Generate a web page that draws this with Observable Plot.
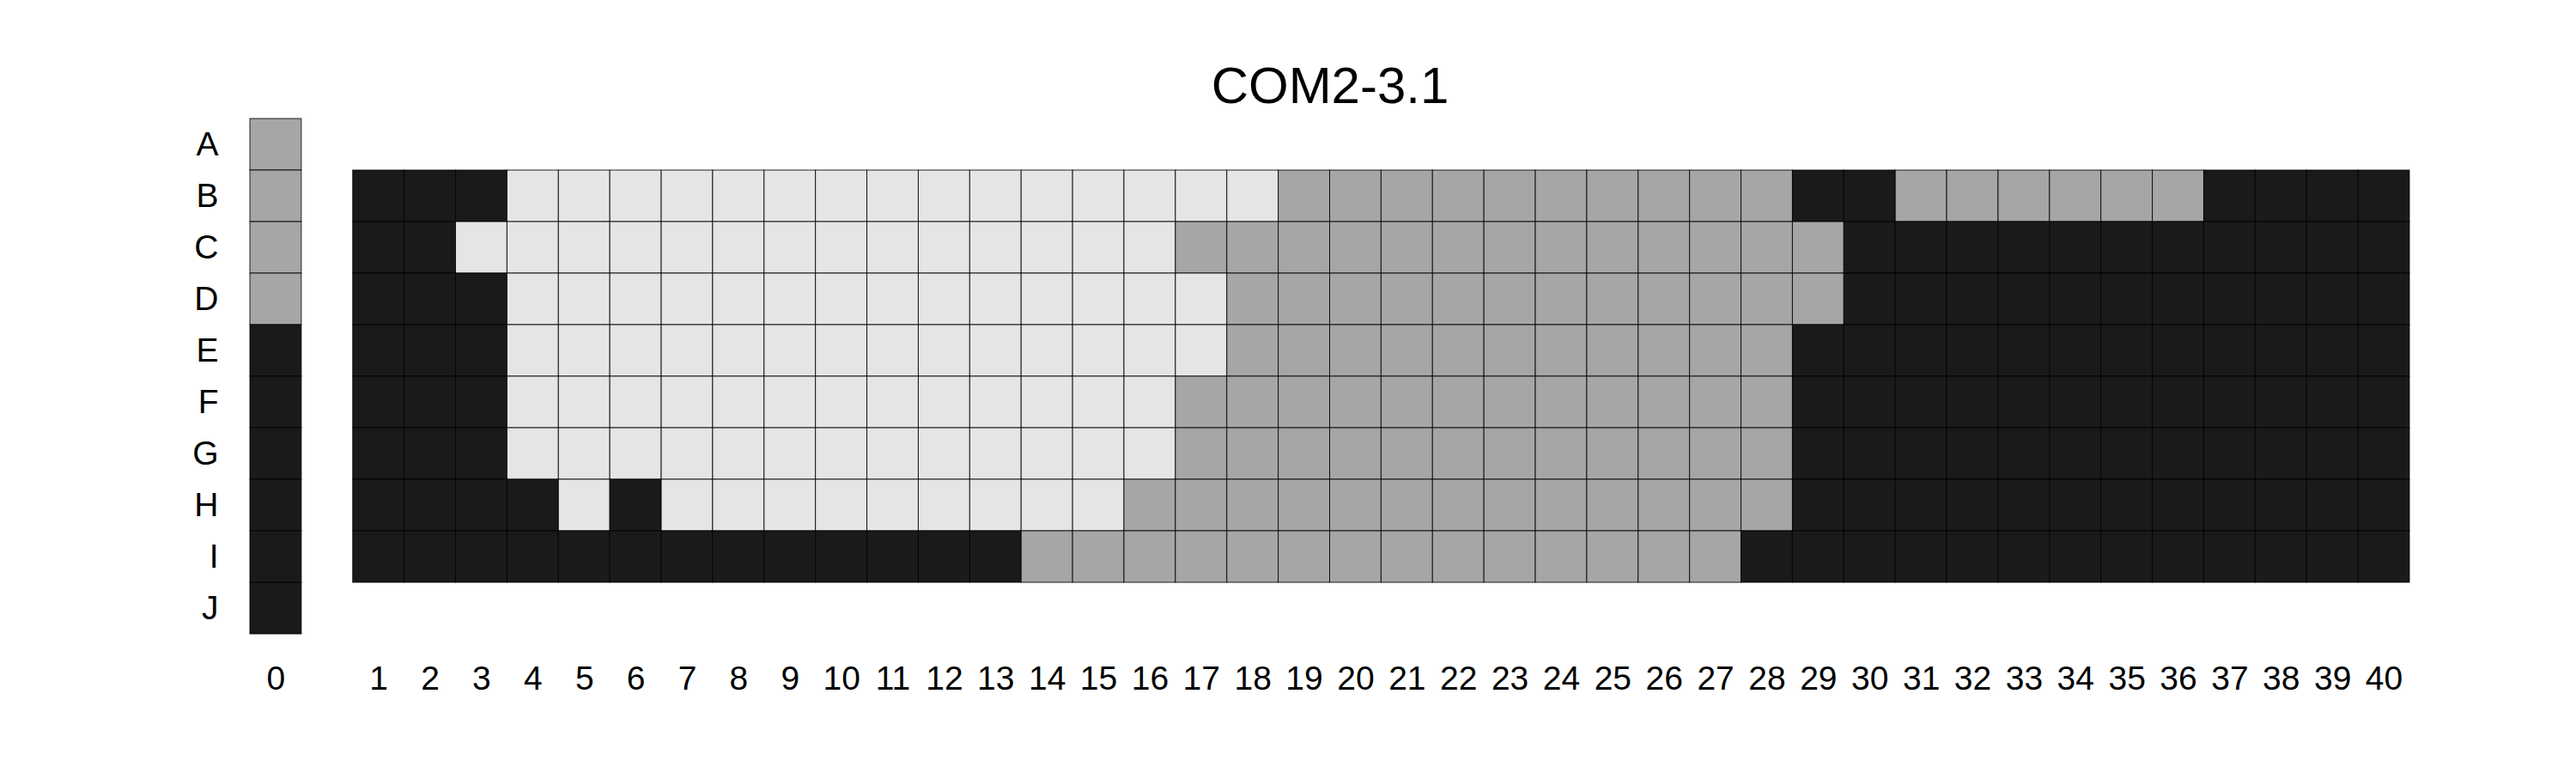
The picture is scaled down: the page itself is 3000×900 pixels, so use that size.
<!DOCTYPE html>
<html>
<head>
<meta charset="utf-8">
<script src="https://cdn.jsdelivr.net/npm/d3@7"></script>
<script src="https://cdn.jsdelivr.net/npm/@observablehq/plot@0.6"></script>
<style>
  html, body { margin: 0; padding: 0; background: #fff; }
</style>
</head>
<body>
<div id="chart"></div>
<script>
const title = "COM2-3.1";
const rowLabels = ["A","B","C","D","E","F","G","H","I","J"];
const colLabels = ["0","1","2","3","4","5","6","7","8","9","10","11","12","13","14","15","16","17","18","19","20","21","22","23","24","25","26","27","28","29","30","31","32","33","34","35","36","37","38","39","40"];
const states = ["D","G","L"];           // dark, grey, light
const stateColors = ["#1a1a1a","#a6a6a6","#e5e5e5"];

// column 0, rows A..J
const col0 = ["G","G","G","G","D","D","D","D","D","D"];

// columns 1..40 for rows B..I
const rowB = ["D","D","D","L","L","L","L","L","L","L","L","L","L","L","L","L","L","L","G","G","G","G","G","G","G","G","G","G","D","D","G","G","G","G","G","G","D","D","D","D"];
const rowC = ["D","D","L","L","L","L","L","L","L","L","L","L","L","L","L","L","G","G","G","G","G","G","G","G","G","G","G","G","G","D","D","D","D","D","D","D","D","D","D","D"];
const rowD = ["D","D","D","L","L","L","L","L","L","L","L","L","L","L","L","L","L","G","G","G","G","G","G","G","G","G","G","G","G","D","D","D","D","D","D","D","D","D","D","D"];
const rowE = ["D","D","D","L","L","L","L","L","L","L","L","L","L","L","L","L","L","G","G","G","G","G","G","G","G","G","G","G","D","D","D","D","D","D","D","D","D","D","D","D"];
const rowF = ["D","D","D","L","L","L","L","L","L","L","L","L","L","L","L","L","G","G","G","G","G","G","G","G","G","G","G","G","D","D","D","D","D","D","D","D","D","D","D","D"];
const rowG = ["D","D","D","L","L","L","L","L","L","L","L","L","L","L","L","L","G","G","G","G","G","G","G","G","G","G","G","G","D","D","D","D","D","D","D","D","D","D","D","D"];
const rowH = ["D","D","D","D","L","D","L","L","L","L","L","L","L","L","L","G","G","G","G","G","G","G","G","G","G","G","G","G","D","D","D","D","D","D","D","D","D","D","D","D"];
const rowI = ["D","D","D","D","D","D","D","D","D","D","D","D","D","G","G","G","G","G","G","G","G","G","G","G","G","G","G","D","D","D","D","D","D","D","D","D","D","D","D","D"];

// fix: rowD col 17 light, rowE col 17 light (per reference)
const mainRows = {B: rowB, C: rowC, D: rowD, E: rowE, F: rowF, G: rowG, H: rowH, I: rowI};

const cells = [];
col0.forEach((s, i) => cells.push({col: "0", row: rowLabels[i], state: s}));
for (const [r, arr] of Object.entries(mainRows)) {
  arr.forEach((s, j) => cells.push({col: String(j + 1), row: r, state: s}));
}

const spacer = " ";
const xDomain = ["0", spacer, ...colLabels.slice(1)];

const chart = Plot.plot({
  width: 3000,
  height: 900,
  marginLeft: 291,
  marginRight: 194,
  marginTop: 138,
  marginBottom: 162,
  style: {fontFamily: "'Liberation Sans', Arial, Helvetica, sans-serif", fontSize: "39px", color: "#000", background: "#fff"},
  x: {domain: xDomain, padding: 0, label: null, tickSize: 0, tickPadding: 37, tickFormat: d => d === spacer ? "" : d},
  y: {domain: rowLabels, padding: 0, label: null, tickSize: 0, tickPadding: 37},
  color: {domain: states, range: stateColors},
  marks: [
    Plot.cell(cells, {x: "col", y: "row", fill: "state", stroke: "#000", strokeWidth: 1, strokeOpacity: 0.85, inset: 0}),
    Plot.text([title], {frameAnchor: "top", dy: -19, lineAnchor: "bottom", fontSize: 60, fill: "#000"})
  ]
});
document.getElementById("chart").appendChild(chart);
</script>
</body>
</html>
